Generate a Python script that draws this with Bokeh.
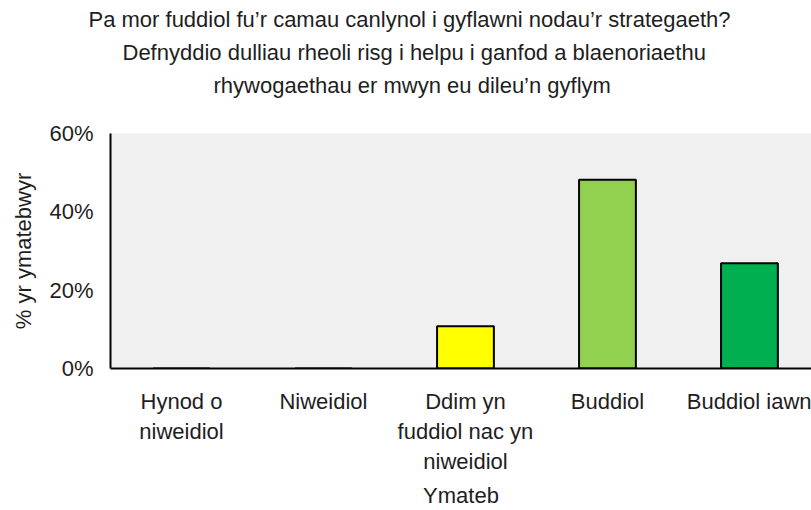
from bokeh.plotting import figure
from bokeh.models import Range1d, FixedTicker, PrintfTickFormatter, Title, ColumnDataSource
from bokeh.embed import file_html
from bokeh.resources import INLINE

# ---- data ----
categories = ["Hynod o\nniweidiol", "Niweidiol", "Ddim yn\nfuddiol nac yn\nniweidiol", "Buddiol", "Buddiol iawn"]
values = [0.0, 0.0, 10.8, 48.2, 26.9]
colors = ["#C00000", "#FF6060", "#FFFF00", "#92D050", "#00B050"]
y_ticks = [0, 20, 40, 60]
title_lines = ["Pa mor fuddiol fu\u2019r camau canlynol i gyflawni nodau\u2019r strategaeth?",
               "Defnyddio dulliau rheoli risg i helpu i ganfod a blaenoriaethu",
               "rhywogaethau er mwyn eu dileu\u2019n gyflym"]
x_title = "Ymateb"
y_title = "% yr ymatebwyr"

FONT = "Liberation Sans"
TXT = "#1e1e1e"

xs = [i + 0.5 for i in range(len(categories))]
src = ColumnDataSource(dict(x=xs, top=values, color=colors))

p = figure(width=811, height=510, output_backend="svg", toolbar_location=None,
           x_range=Range1d(0, 4.937), y_range=Range1d(0, 60),
           min_border_left=110, min_border_right=0, min_border_top=133, min_border_bottom=142)
p.outline_line_color = None
p.background_fill_color = "#f0f0f0"
p.border_fill_color = "white"
p.grid.visible = False

p.vbar(x="x", top="top", width=0.4, bottom=0, fill_color="color", line_color="black", line_width=2, source=src)

# y axis
p.yaxis.ticker = FixedTicker(ticks=y_ticks)
p.yaxis.formatter = PrintfTickFormatter(format="%d%%")
p.yaxis.major_tick_line_color = None
p.yaxis.minor_tick_line_color = None
p.yaxis.major_tick_out = 0
p.yaxis.major_label_standoff = 17
p.yaxis.major_label_text_font = FONT
p.yaxis.major_label_text_font_size = "22px"
p.yaxis.major_label_text_color = TXT
p.yaxis.axis_line_color = "black"
p.yaxis.axis_line_width = 2
p.yaxis.axis_label = y_title
p.yaxis.axis_label_text_font = FONT
p.yaxis.axis_label_text_font_size = "22px"
p.yaxis.axis_label_text_font_style = "normal"
p.yaxis.axis_label_text_color = TXT
p.yaxis.axis_label_standoff = 10

# x axis
p.xaxis.ticker = FixedTicker(ticks=xs)
p.xaxis.major_label_overrides = {x: c for x, c in zip(xs, categories)}
p.xaxis.major_tick_line_color = None
p.xaxis.minor_tick_line_color = None
p.xaxis.major_tick_out = 0
p.xaxis.major_label_standoff = 20
p.xaxis.major_label_text_font = FONT
p.xaxis.major_label_text_font_size = "22px"
p.xaxis.major_label_text_line_height = 1.2
p.xaxis.major_label_text_color = TXT
p.xaxis.axis_line_color = "black"
p.xaxis.axis_line_width = 2
p.xaxis.axis_label = x_title
p.xaxis.axis_label_text_font = FONT
p.xaxis.axis_label_text_font_size = "22px"
p.xaxis.axis_label_text_font_style = "normal"
p.xaxis.axis_label_text_color = TXT
p.xaxis.axis_label_standoff = 6

# title: spacer nearest the frame, then lines from bottom to top
p.add_layout(Title(text=" ", text_font=FONT, text_font_size="22px", standoff=6), "above")
offsets = [-22, 12, 103]
for line, off in reversed(list(zip(title_lines, offsets))):
    p.add_layout(Title(text=line, align="left", offset=off, text_font=FONT,
                       text_font_size="22px", text_font_style="normal",
                       text_color=TXT, standoff=6), "above")

open("out.html", "w").write(file_html(p, INLINE))
